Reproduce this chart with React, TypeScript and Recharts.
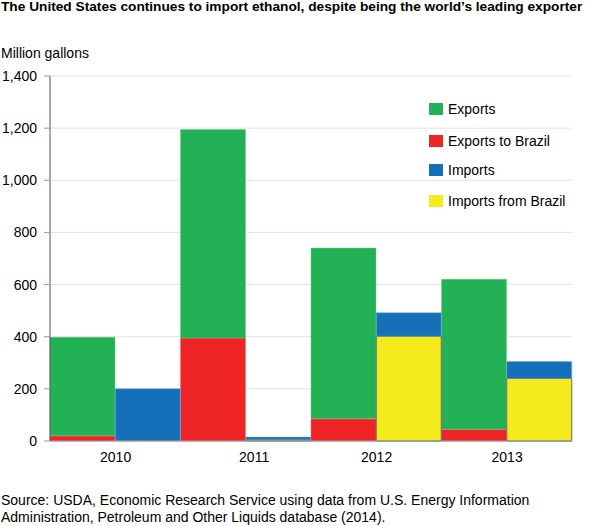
import { BarChart, Bar, XAxis, YAxis, CartesianGrid } from 'recharts';

const FONT = '"Liberation Sans", Arial, sans-serif';

// each year takes two slots: exports, then imports
const slots = ['2010 exports', '2010 imports', '2011 exports', '2011 imports', '2012 exports', '2012 imports', '2013 exports', '2013 imports'];
const yearLabels = ['2010', '', '2011', '', '2012', '', '2013', ''];
const exportsToBrazil = [20, 0, 395, 0, 85, 0, 45, 0];
const exportsOther = [378, 0, 800, 0, 655, 0, 575, 0];
const importsFromBrazil = [0, 0, 0, 5, 0, 402, 0, 240];
const importsOther = [0, 200, 0, 10, 0, 90, 0, 65];
const yTicks = [0, 200, 400, 600, 800, 1000, 1200, 1400];

const chartData = slots.map((slot, i) => ({
  slot,
  exportsToBrazil: exportsToBrazil[i],
  exportsOther: exportsOther[i],
  importsFromBrazil: importsFromBrazil[i],
  importsOther: importsOther[i],
}));

const legendItems = [
  { label: 'Exports', color: '#22b155', height: 30 },
  { label: 'Exports to Brazil', color: '#ee2427', height: 34 },
  { label: 'Imports', color: '#1470b8', height: 24 },
  { label: 'Imports from Brazil', color: '#f4ec1a', height: 38 },
];

function YearTick({ x, y, index }: any) {
  const label = yearLabels[index];
  if (!label) return null;
  // labels sit near the right edge of the year's first slot, 2011 a bit further over
  const shift = label === '2011' ? 41 : 33;
  return (
    <text x={x + shift} y={y + 13} textAnchor="middle" fontSize={14} fontFamily={FONT} fill="#000">
      {label}
    </text>
  );
}

export default function App() {
  return (
    <div style={{ position: 'absolute', left: 0, top: 0, width: 596, height: 526, background: '#fff', color: '#000', fontFamily: FONT }}>
      <div style={{ position: 'absolute', left: 1, top: -1, fontSize: 13.7, fontWeight: 700, whiteSpace: 'nowrap', lineHeight: '16px' }}>
        The United States continues to import ethanol, despite being the world’s leading exporter
      </div>
      <div style={{ position: 'absolute', left: 1, top: 45, fontSize: 14, whiteSpace: 'nowrap', lineHeight: '16px' }}>
        Million gallons
      </div>
      <BarChart width={596} height={526} data={chartData} barCategoryGap={0} margin={{ top: 76, right: 24, bottom: 55, left: 0 }}>
        <CartesianGrid horizontal vertical={false} stroke="#e2e2e2" />
        <XAxis dataKey="slot" interval={0} tick={<YearTick />} tickLine={false} axisLine={{ stroke: '#999' }} height={30} />
        <YAxis
          width={50}
          domain={[0, 1400]}
          ticks={yTicks}
          interval={0}
          tickFormatter={(v: number) => v.toLocaleString('en-US')}
          tick={{ fontSize: 14, fontFamily: FONT, fill: '#000' }}
          tickLine={{ stroke: '#999' }}
          tickSize={6}
          tickMargin={7}
          axisLine={{ stroke: '#555' }}
        />
        <Bar dataKey="exportsToBrazil" stackId="a" fill="#ee2427" stroke="#f0686a" strokeWidth={0.5} isAnimationActive={false} />
        <Bar dataKey="exportsOther" stackId="a" fill="#22b155" stroke="#6cc98f" strokeWidth={0.5} isAnimationActive={false} />
        <Bar dataKey="importsFromBrazil" stackId="a" fill="#f4ec1a" stroke="#666" strokeWidth={1} isAnimationActive={false} />
        <Bar dataKey="importsOther" stackId="a" fill="#1470b8" stroke="#6ea6d4" strokeWidth={0.5} isAnimationActive={false} />
      </BarChart>
      <div style={{ position: 'absolute', left: 429, top: 94, fontSize: 14 }}>
        {legendItems.map(item => (
          <div key={item.label} style={{ display: 'flex', alignItems: 'center', height: item.height, whiteSpace: 'nowrap' }}>
            <span style={{ width: 14, height: 12, marginRight: 5, background: item.color, display: 'inline-block' }} />
            {item.label}
          </div>
        ))}
      </div>
      <div style={{ position: 'absolute', left: 1, top: 492, fontSize: 14, lineHeight: '17px', whiteSpace: 'nowrap' }}>
        Source: USDA, Economic Research Service using data from U.S. Energy Information
        <br />
        Administration, Petroleum and Other Liquids database (2014).
      </div>
    </div>
  );
}
